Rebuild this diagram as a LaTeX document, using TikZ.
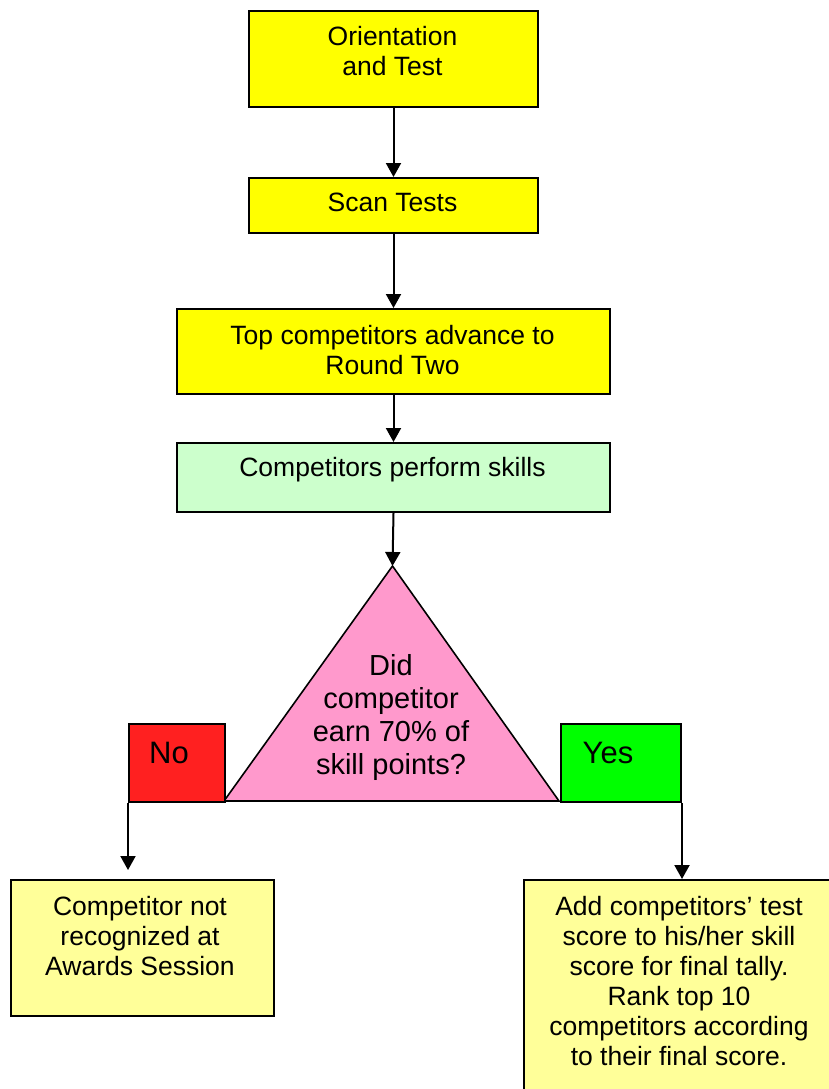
\documentclass[tikz,border=0pt]{standalone}
\usepackage{fontspec}
\setmainfont{Liberation Sans}
\usetikzlibrary{arrows.meta}
\definecolor{boxyellow}{HTML}{FFFF00}
\definecolor{boxgreen}{HTML}{CCFFCC}
\definecolor{boxpink}{HTML}{FF99CC}
\definecolor{boxred}{HTML}{FF2020}
\definecolor{boxbright}{HTML}{00FF00}
\definecolor{boxpale}{HTML}{FFFF99}
\newcommand{\mylines}[1]{\begin{tabular}[t]{@{}c@{}}#1\end{tabular}}
\begin{document}
\begin{tikzpicture}[x=1pt,y=-1pt,
  box/.style={draw=black, line width=2pt, inner sep=0pt, anchor=north west},
  lbl/.style={anchor=base, inner sep=0pt, font=\fontsize{26.5}{30}\selectfont},
  big/.style={anchor=base, inner sep=0pt, font=\fontsize{31}{36}\selectfont},
  arr/.style={line width=2pt, -{Triangle[length=14pt,width=15pt]}}]
\useasboundingbox (0,0) rectangle (828,1089);
% boxes
\node[box, fill=boxyellow, minimum width=289pt, minimum height=96pt] (b1) at (248,10) {};
\node[box, fill=boxyellow, minimum width=289pt, minimum height=55pt] (b2) at (248,177) {};
\node[box, fill=boxyellow, minimum width=433pt, minimum height=85pt] (b3) at (176,308) {};
\node[box, fill=boxgreen, minimum width=433pt, minimum height=69pt] (b4) at (176,442) {};
% triangle
\coordinate (apex) at (392.5,566);
\coordinate (bl) at (224,801);
\coordinate (br) at (559,801);
\draw[line width=1.6pt, fill=boxpink] (apex) -- (bl) -- (br) -- cycle;
\node[box, fill=boxred, minimum width=96pt, minimum height=78pt] (no) at (128,723) {};
\node[box, fill=boxbright, minimum width=120pt, minimum height=78pt] (yes) at (560,723) {};
\node[box, fill=boxpale, minimum width=263pt, minimum height=136pt] (r1) at (10,879) {};
\node[box, fill=boxpale, minimum width=313pt, minimum height=216pt] (r2) at (523,879) {};
% texts
\node[lbl] (t1) at (392.5,45.7) {\mylines{Orientation\\and Test}};
\node[lbl] (t2) at (392.5,211.7) {\mylines{Scan Tests}};
\node[lbl] (t3) at (392.5,344.3) {\mylines{Top competitors advance to\\Round Two}};
\node[lbl] (t4) at (392.5,476) {\mylines{Competitors perform skills}};
\node[anchor=base, inner sep=0pt, font=\fontsize{29}{33.3}\selectfont] (q) at (391,675)
  {\mylines{Did\\competitor\\earn 70\% of\\skill points?}};
\node[big] (tno) at (169,763) {No};
\node[big] (tyes) at (608,763) {Yes};
\node[lbl] (tr1) at (140,915.7) {\mylines{Competitor not\\recognized at\\Awards Session}};
\node[lbl] (tr2) at (679,915.7) {\mylines{Add competitors’ test\\score to his/her skill\\score for final tally.\\Rank top 10\\competitors according\\to their final score.}};
% connectors
\draw[arr] (b1.south) -- (b2.north);
\draw[arr] (b2.south) -- (b3.north);
\draw[arr] (b3.south) -- (b4.north);
\draw[arr] (b4.south) -- (apex);
\coordinate (noend) at (128,870);
\draw[arr] (no.south west) -- (noend);
\draw[arr] (yes.south east) -- (yes.south east |- r2.north);
\end{tikzpicture}
\end{document}
